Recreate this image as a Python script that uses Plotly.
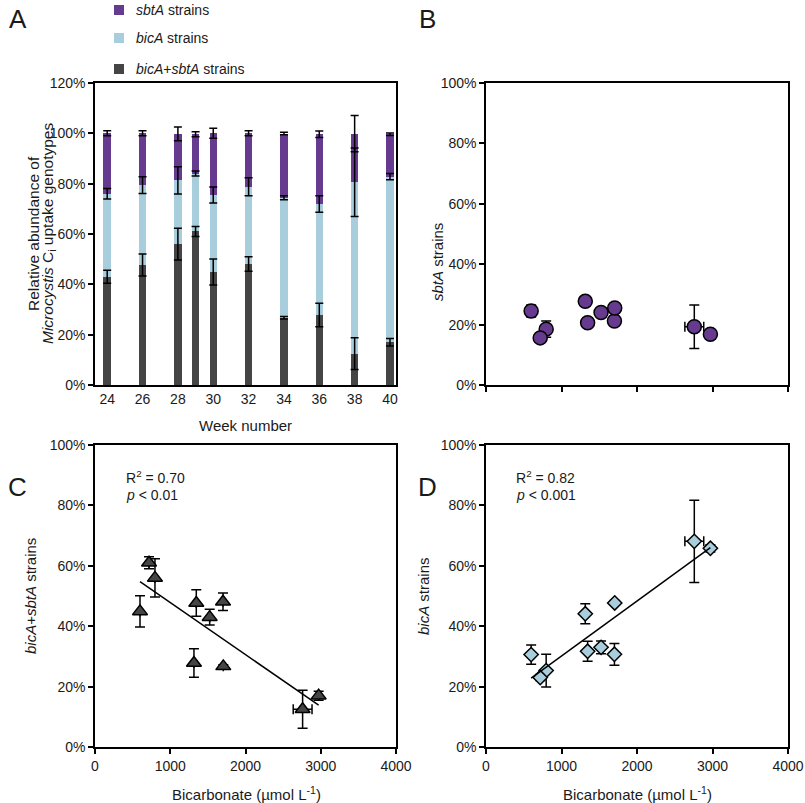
import numpy as np
import plotly.graph_objects as go

W, H = 805, 803
FONT = "Liberation Sans, Arial, sans-serif"

# ---------------- data ----------------
weeks = [24, 26, 28, 29, 30, 32, 34, 36, 38, 40]
week_ticks = [24, 26, 28, 30, 32, 34, 36, 38, 40]
bicarbonate = [1524, 1346, 797, 718, 598, 1701, 1705, 1315, 2759, 2972]
bicarbonate_err = [None, None, None, None, None, None, None, None, 125, None]
both_pct = [43.0, 47.7, 56.0, 61.0, 44.9, 48.1, 26.7, 27.8, 12.5, 17.0]
both_err = [2.6, 4.4, 6.3, 2.0, 5.2, 2.9, 0.5, 4.7, 6.3, 1.5]
bica_pct = [33.0, 31.7, 25.3, 23.0, 30.6, 30.7, 47.7, 44.1, 68.1, 65.8]
bica_err = [2.1, 3.3, 5.4, 1.0, 3.2, 3.6, 0.8, 3.3, 13.6, 1.2]
sbta_pct = [24.0, 20.6, 18.5, 15.6, 24.5, 21.2, 25.5, 27.7, 19.3, 16.8]
sbta_err = [1.0, 1.0, 2.7, 1.0, 2.0, 1.0, 0.5, 1.3, 7.2, 0.5]
pct_ticks = [0, 20, 40, 60, 80, 100, 120]
pct_labels = ["0%", "20%", "40%", "60%", "80%", "100%", "120%"]
bic_ticks = [0, 1000, 2000, 3000, 4000]

C_PURPLE = "#663a8f"
C_LIGHT = "#a8cedd"
C_DARK = "#454545"


def px_x(p):
    return p / W


def px_y(p):
    return 1 - p / H


fig = go.Figure()

# ---------------- panel A: stacked bars ----------------
cum1 = np.array(both_pct)
cum2 = cum1 + np.array(bica_pct)
cum3 = cum2 + np.array(sbta_pct)

for vals, col, name in [(both_pct, C_DARK, "bicA+sbtA"), (bica_pct, C_LIGHT, "bicA"),
                        (sbta_pct, C_PURPLE, "sbtA")]:
    fig.add_trace(go.Bar(x=weeks, y=vals, marker=dict(color=col, line=dict(width=0)),
                         width=0.42, name=name, showlegend=False, xaxis="x", yaxis="y"))

for tops, errs in [(cum1, both_err), (cum2, bica_err), (cum3, sbta_err)]:
    fig.add_trace(go.Scatter(x=weeks, y=tops, mode="markers", marker=dict(opacity=0, size=2),
                             error_y=dict(type="data", array=errs, color="black", thickness=1.5, width=4),
                             showlegend=False, hoverinfo="skip", xaxis="x", yaxis="y"))

# ---------------- scatter panels ----------------
def scatter_panel(yvals, yerr, symbol, size, fill, xa, ya, fit):
    fig.add_trace(go.Scatter(
        x=bicarbonate, y=yvals, mode="markers",
        marker=dict(symbol=symbol, size=size, color=fill, line=dict(color="black", width=1.5)),
        error_y=dict(type="data", array=yerr, color="black", thickness=1.5, width=5),
        error_x=dict(type="data", array=bicarbonate_err, color="black", thickness=1.5, width=5),
        showlegend=False, xaxis=xa, yaxis=ya))
    if fit:
        xs = np.array(bicarbonate, dtype=float)
        slope, icpt = np.polyfit(xs, np.array(yvals, dtype=float), 1)
        xl = np.array([xs.min(), xs.max()])
        fig.add_trace(go.Scatter(x=xl, y=slope * xl + icpt, mode="lines",
                                 line=dict(color="black", width=1.5), showlegend=False,
                                 hoverinfo="skip", xaxis=xa, yaxis=ya))


scatter_panel(sbta_pct, sbta_err, "circle", 14, C_PURPLE, "x2", "y2", False)
scatter_panel(both_pct, both_err, "triangle-up", 13, C_DARK, "x3", "y3", True)
scatter_panel(bica_pct, bica_err, "diamond", 11, C_LIGHT, "x4", "y4", True)

# ---------------- axes ----------------
tickfont = dict(size=14, color="#1a1a1a", family=FONT)
ax = dict(showline=True, linecolor="black", linewidth=1.5, mirror=True, ticks="outside",
          ticklen=5, tickwidth=1.5, tickcolor="black", showgrid=False, zeroline=False,
          tickfont=tickfont, automargin=False)

xA = [px_x(95), px_x(396)]
xB = [px_x(486), px_x(788)]
yTop = [px_y(385), px_y(83)]
yBot = [px_y(747), px_y(445)]

pct_axis = dict(tickmode="array", tickvals=pct_ticks[:6], ticktext=pct_labels[:6])

fig.update_layout(
    template="none",
    width=W, height=H, margin=dict(l=0, r=0, t=0, b=0, pad=0, autoexpand=False),
    paper_bgcolor="white", plot_bgcolor="white", barmode="stack", bargap=0,
    font=dict(family=FONT, color="#1a1a1a"), showlegend=False,
    xaxis=dict(ax, domain=xA, anchor="y", range=[23.31, 40.34], tickmode="array",
               tickvals=week_ticks, ticktext=[str(w) for w in week_ticks], ticks=""),
    yaxis=dict(ax, domain=yTop, anchor="x", range=[0, 120], tickmode="array",
               tickvals=pct_ticks, ticktext=pct_labels),
    xaxis2=dict(ax, domain=xB, anchor="y2", range=[0, 4000], tickvals=bic_ticks, showticklabels=False),
    yaxis2=dict(ax, domain=yTop, anchor="x2", range=[0, 100], **pct_axis),
    xaxis3=dict(ax, domain=xA, anchor="y3", range=[0, 4000], tickvals=bic_ticks),
    yaxis3=dict(ax, domain=yBot, anchor="x3", range=[0, 100], **pct_axis),
    xaxis4=dict(ax, domain=xB, anchor="y4", range=[0, 4000], tickvals=bic_ticks),
    yaxis4=dict(ax, domain=yBot, anchor="x4", range=[0, 100], **pct_axis),
)

# ---------------- text ----------------
ann = []


def text(x, y, s, size=15, angle=0, xanchor="center", yanchor="middle"):
    ann.append(dict(x=px_x(x), y=px_y(y), xref="paper", yref="paper", text=s, showarrow=False,
                    textangle=angle, xanchor=xanchor, yanchor=yanchor,
                    font=dict(size=size, family=FONT, color="#1a1a1a")))


# panel letters
text(18, 19, "A", 26)
text(427, 19, "B", 26)
text(17, 487, "C", 26)
text(427, 487, "D", 26)

# axis titles
text(33, 234, "Relative abundance of", 15.5, -90)
text(48, 234, "<i>Microcystis</i> C<sub>i</sub> uptake genotypes", 15.5, -90)
text(245, 425, "Week number", 15)
text(437, 262, "<i>sbtA</i> strains", 15, -90)
text(30, 596, "<i>bicA</i>+<i>sbtA</i> strains", 15, -90)
text(423, 596, "<i>bicA</i> strains", 15, -90)
text(246, 793, "Bicarbonate (µmol L<sup>-1</sup>)", 15)
text(637, 793, "Bicarbonate (µmol L<sup>-1</sup>)", 15)

# statistics
text(124, 477, "R<sup>2</sup> = 0.70", 14, xanchor="left")
text(124, 495, "<i>p</i> < 0.01", 14, xanchor="left")
text(514, 477, "R<sup>2</sup> = 0.82", 14, xanchor="left")
text(514, 495, "<i>p</i> < 0.001", 14, xanchor="left")

# legend
shapes = []
legend_items = [(10, C_PURPLE, "<i>sbtA</i> strains"),
                (38, C_LIGHT, "<i>bicA</i> strains"),
                (69, C_DARK, "<i>bicA</i>+<i>sbtA</i> strains")]
for yc, col, label in legend_items:
    shapes.append(dict(type="rect", xref="paper", yref="paper",
                       x0=px_x(114), x1=px_x(124), y0=px_y(yc + 5), y1=px_y(yc - 5),
                       fillcolor=col, line=dict(width=0)))
    text(134, yc, label, 14, xanchor="left")

fig.update_layout(annotations=ann, shapes=shapes)

# remove the browser's default page margin so the figure fills the window exactly
fig.write_html("out.html", config={"displayModeBar": False},
               post_script="document.body.style.margin='0';document.body.style.overflow='hidden';")
